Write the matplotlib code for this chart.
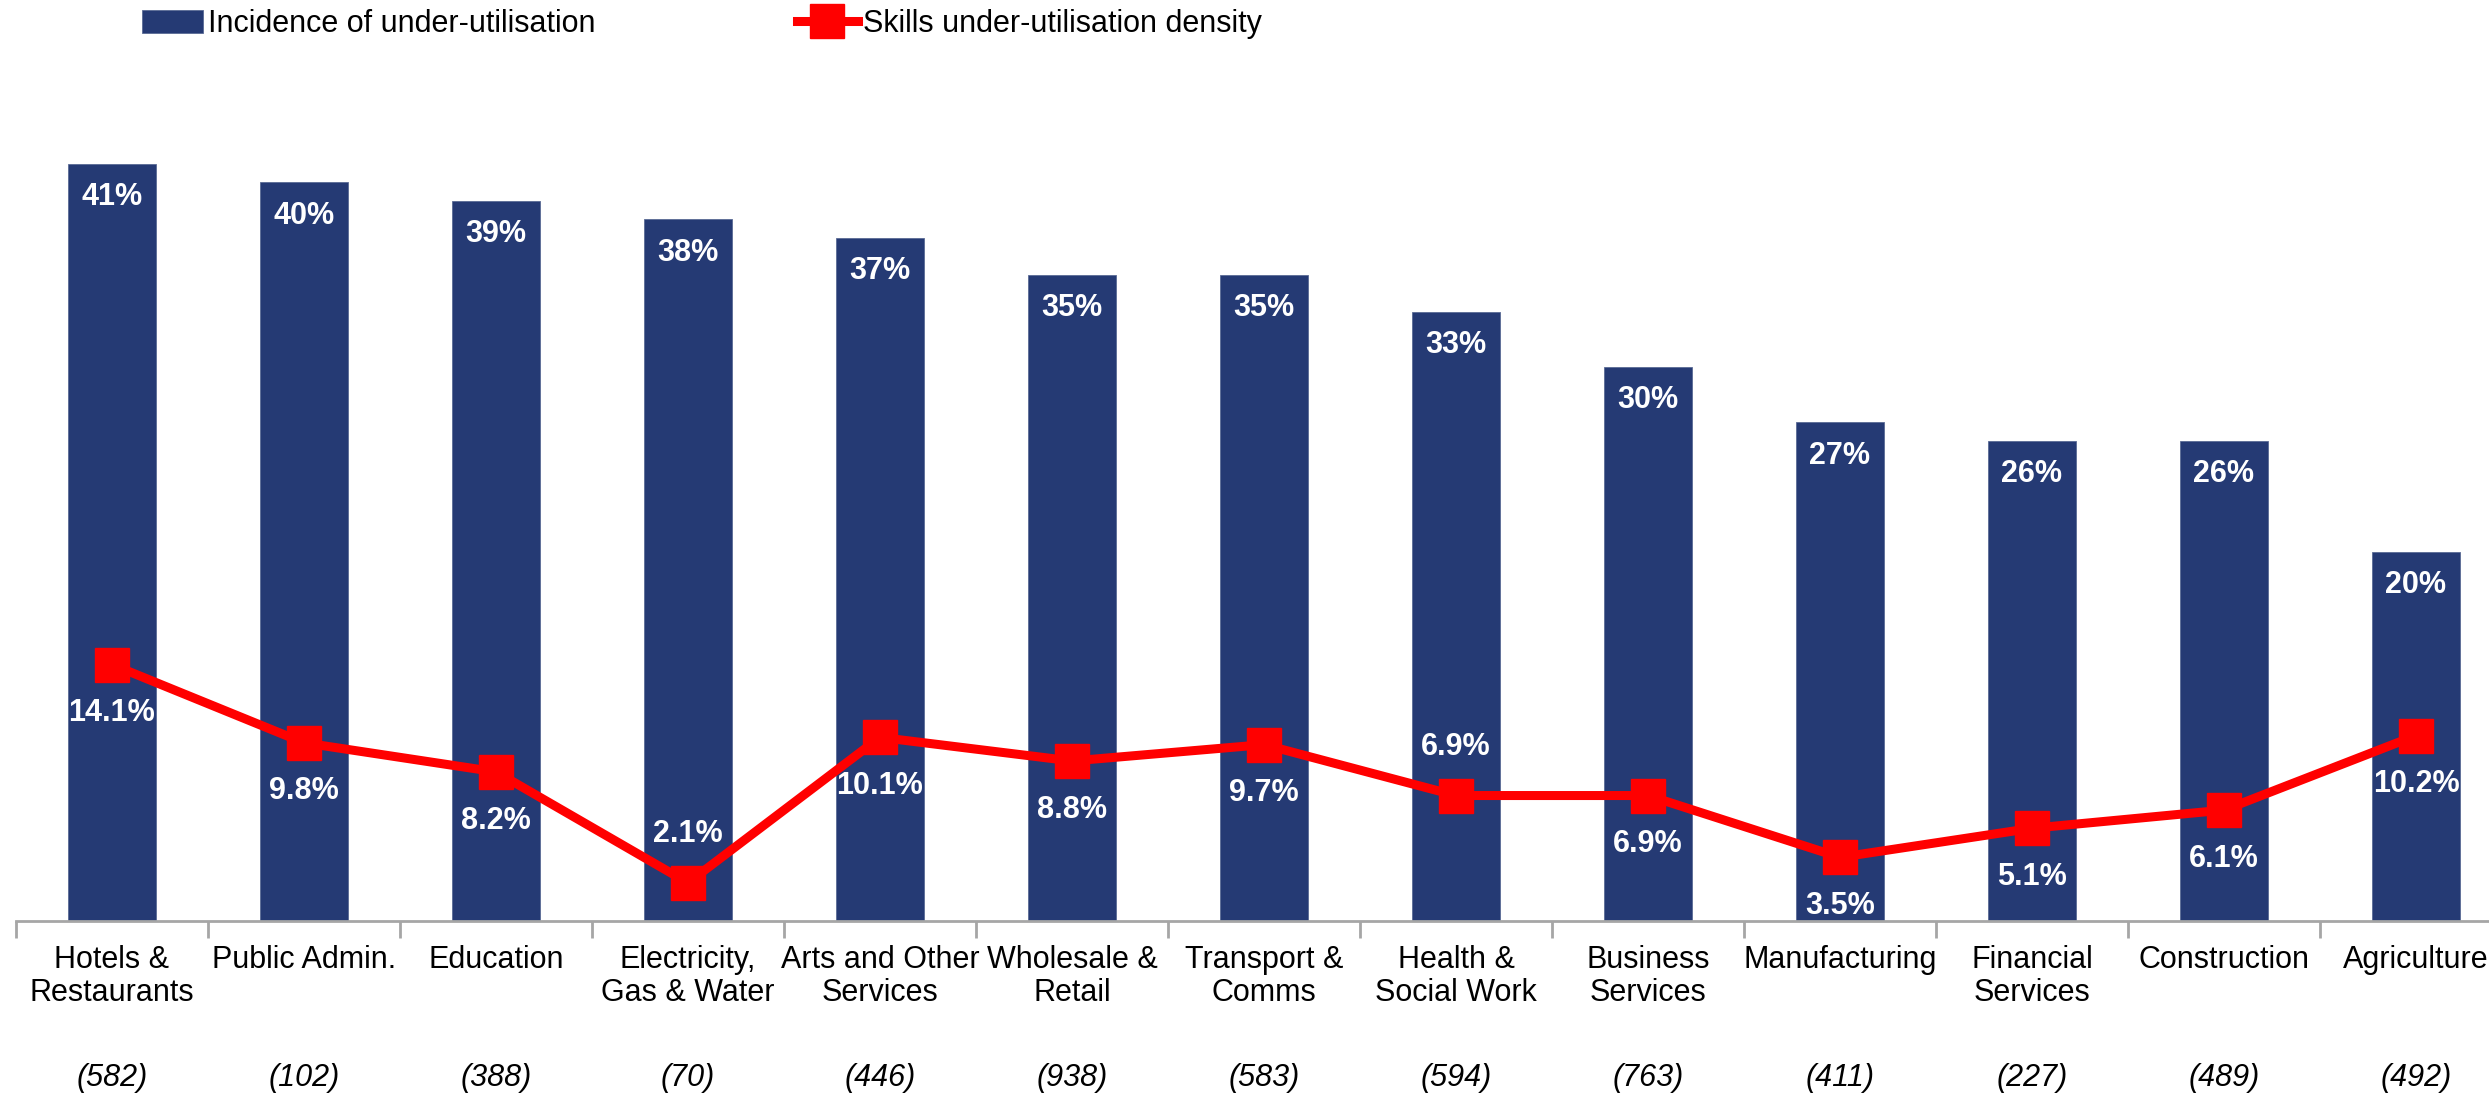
import matplotlib
matplotlib.use('Agg')

import matplotlib.pyplot as plt
from matplotlib.transforms import blended_transform_factory

plt.rcParams['font.family'] = ['Liberation Sans', 'DejaVu Sans']

# ---- data ----
sectors = ["Hotels &\nRestaurants", "Public Admin.", "Education",
           "Electricity,\nGas & Water", "Arts and Other\nServices",
           "Wholesale &\nRetail", "Transport &\nComms", "Health &\nSocial Work",
           "Business\nServices", "Manufacturing", "Financial\nServices",
           "Construction", "Agriculture"]
sample_sizes = [582, 102, 388, 70, 446, 938, 583, 594, 763, 411, 227, 489, 492]
incidence = [41, 40, 39, 38, 37, 35, 35, 33, 30, 27, 26, 26, 20]
density = [14.1, 9.8, 8.2, 2.1, 10.1, 8.8, 9.7, 6.9, 6.9, 3.5, 5.1, 6.1, 10.2]
label_above = [3, 7]  # density labels drawn above the marker

bar_color = '#253A74'
line_color = '#FF0000'
axis_grey = '#A6A6A6'

fig = plt.figure(figsize=(24.89, 10.95), dpi=100)
ax = fig.add_axes([16 / 2489, 174 / 1095, 2496 / 2489, 831 / 1095])
ax2 = ax.twinx()

x = list(range(len(sectors)))

bars = ax.bar(x, incidence, width=0.46, color=bar_color,
              edgecolor='#5A6A95', linewidth=0.6, zorder=2,
              label='Incidence of under-utilisation')
for xi, v in zip(x, incidence):
    ax.annotate(f"{v}%", (xi, v), xytext=(0, -24), textcoords='offset points',
                ha='center', va='center', color='white', fontsize=22,
                fontweight='bold')

line, = ax2.plot(x, density, color=line_color, linewidth=6.5, marker='s',
                 markersize=24, zorder=3,
                 label='Skills under-utilisation density')
for i, (xi, v) in enumerate(zip(x, density)):
    dy = 35 if i in label_above else -35
    ax2.annotate(f"{v:.1f}%", (xi, v), xytext=(0, dy), textcoords='offset points',
                 ha='center', va='center', color='white', fontsize=22,
                 fontweight='bold', zorder=4)

ax.set_xlim(-0.5, len(sectors) - 0.5)
ax.set_ylim(0, 45)
ax2.set_ylim(0, 45.7)

# axis styling
for a in (ax, ax2):
    for s in ('top', 'right', 'left'):
        a.spines[s].set_visible(False)
    a.set_yticks([])
ax2.spines['bottom'].set_visible(False)
ax.spines['bottom'].set_color(axis_grey)
ax.spines['bottom'].set_linewidth(2)

ax.set_xticks([i - 0.5 for i in range(len(sectors) + 1)])
ax.set_xticklabels([])
ax.tick_params(axis='x', which='major', length=12, width=2, color=axis_grey)
ax.set_xticks(x, minor=True)
ax.set_xticklabels(sectors, minor=True, fontsize=22, linespacing=1.15)
ax.tick_params(axis='x', which='minor', length=0, pad=17)

trans = blended_transform_factory(ax.transData, fig.transFigure)
for xi, n in zip(x, sample_sizes):
    ax.text(xi, 1 - 1078 / 1095, f"({n})", transform=trans, ha='center',
            va='center', fontsize=22, style='italic')

fig.legend(handles=[bars, line], loc='center left',
           bbox_to_anchor=(142 / 2489, 1 - 24 / 1095), ncol=2, frameon=False,
           fontsize=22, handlelength=2.0, handleheight=0.8, handletextpad=0.15,
           columnspacing=6.6, borderpad=0, borderaxespad=0)

fig.savefig('out.png', dpi=100)
